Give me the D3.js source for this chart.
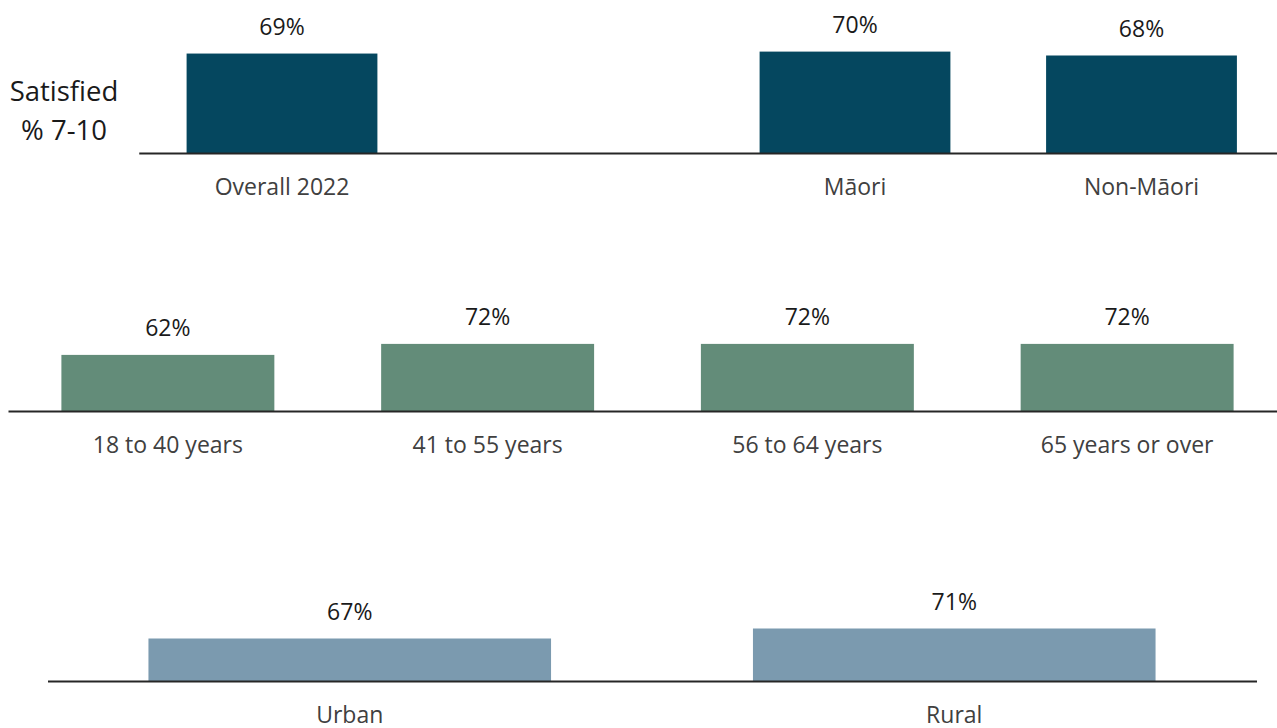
<!DOCTYPE html>
<html>
<head>
<meta charset="utf-8">
<script src="https://cdn.jsdelivr.net/npm/d3@7"></script>
<style>
  body { margin: 0; background: #fff; }
  text { font-family: "Open Sans", "Noto Sans", sans-serif; }
</style>
</head>
<body>
<script>
// satisfied % 7-10 by group
var ethnic_cats = ["Overall 2022", " ", "Māori", "Non-Māori"];
var ethnic_vals = [69, null, 70, 68];

var age_cats = ["18 to 40 years", "41 to 55 years", "56 to 64 years", "65 years or over"];
var age_vals = [62, 72, 72, 72];

var area_cats = ["Urban", "Rural"];
var area_vals = [67, 71];

var width = 1277, height = 728;

var svg = d3.select("body").append("svg")
    .attr("width", width)
    .attr("height", height);

function draw_panel(cats, vals, opt) {
    var x = d3.scaleBand()
        .domain(cats)
        .range([opt.x0, opt.x1])
        .paddingInner(0.334)
        .paddingOuter(0.167);

    // bars sit on a truncated axis, so every panel gets its own floor
    var y = d3.scaleLinear()
        .domain([opt.floor, 100])
        .range([opt.base, opt.base - (100 - opt.floor) * opt.ppp]);

    var g = svg.append("g");

    var data = cats.map(function (c, i) { return { cat: c, val: vals[i] }; })
        .filter(function (d) { return d.val != null; });

    g.selectAll("rect")
        .data(data)
        .enter()
        .append("rect")
        .attr("x", function (d) { return x(d.cat); })
        .attr("y", function (d) { return y(d.val); })
        .attr("width", x.bandwidth())
        .attr("height", function (d) { return opt.base - y(d.val); })
        .attr("fill", opt.color);

    g.selectAll("text.val")
        .data(data)
        .enter()
        .append("text")
        .attr("class", "val")
        .attr("x", function (d) { return x(d.cat) + x.bandwidth() / 2; })
        .attr("y", function (d) { return y(d.val) - 19; })
        .attr("text-anchor", "middle")
        .attr("font-size", 23)
        .attr("fill", "#1a1a1a")
        .text(function (d) { return d.val + "%"; });

    var axis = svg.append("g")
        .attr("transform", "translate(0," + opt.base + ")")
        .call(d3.axisBottom(x).tickSize(0).tickSizeOuter(0).tickPadding(26));

    axis.select(".domain")
        .attr("stroke", "#262626")
        .attr("stroke-width", 2);
    axis.selectAll("text")
        .attr("font-size", 23)
        .attr("fill", "#404040")
        .style("font-family", "'Open Sans', 'Noto Sans', sans-serif");
}

draw_panel(ethnic_cats, ethnic_vals, { x0: 138.75, x1: 1284.75, base: 153, floor: 18, ppp: 1.95, color: "#05475f" });
draw_panel(age_cats, age_vals, { x0: 8, x1: 1287, base: 411, floor: 11, ppp: 1.1, color: "#638c79" });
draw_panel(area_cats, area_vals, { x0: 47.5, x1: 1256.5, base: 681, floor: 50, ppp: 2.5, color: "#7b9aaf" });

var ylab = svg.append("text")
    .attr("x", 64)
    .attr("text-anchor", "middle")
    .attr("font-size", 27.5)
    .attr("fill", "#1a1a1a");
ylab.append("tspan").attr("x", 64).attr("y", 101).text("Satisfied");
ylab.append("tspan").attr("x", 64).attr("y", 140).text("% 7-10");
</script>
</body>
</html>
